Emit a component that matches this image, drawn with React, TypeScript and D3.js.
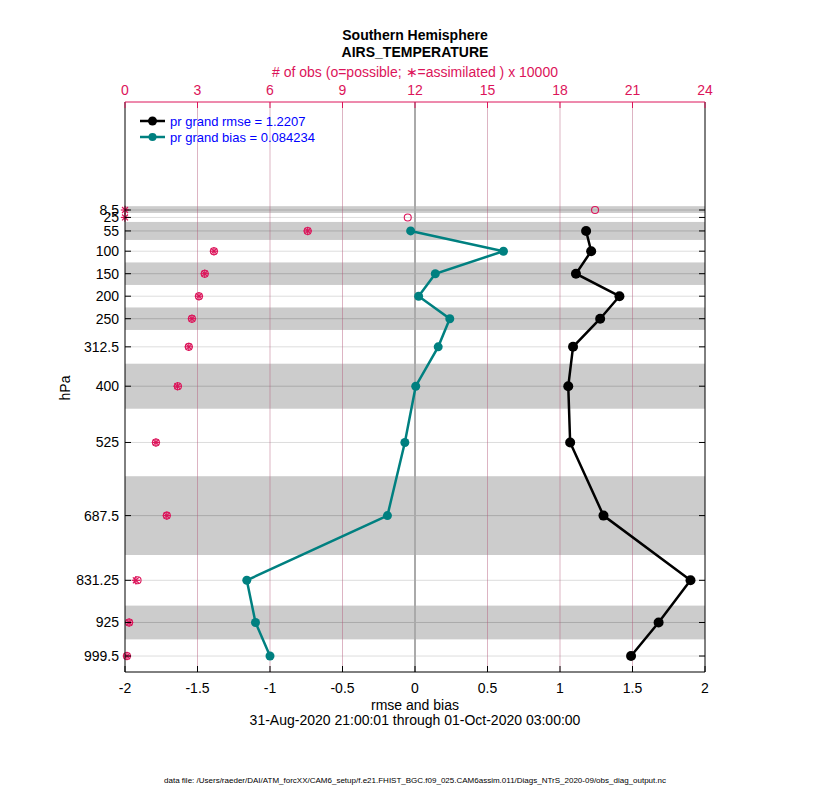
import React from "react";
import * as d3 from "d3";

const levels = [55, 100, 150, 200, 250, 312.5, 400, 525, 687.5, 831.25, 925, 999.5];
const rmse = [1.18, 1.215, 1.11, 1.41, 1.277, 1.09, 1.057, 1.07, 1.3, 1.9, 1.68, 1.49];
const bias = [-0.03, 0.61, 0.14, 0.025, 0.24, 0.16, 0.005, -0.07, -0.19, -1.16, -1.1, -1.0];

const obsLevels = [8.5, 25, 55, 100, 150, 200, 250, 312.5, 400, 525, 687.5, 831.25, 925, 999.5];
const obsPossible = [19.45, 11.7, 7.56, 3.68, 3.3, 3.06, 2.77, 2.64, 2.19, 1.28, 1.73, 0.52, 0.17, 0.08];
const obsAssimilated = [0, 0, 7.56, 3.68, 3.3, 3.06, 2.77, 2.64, 2.17, 1.28, 1.73, 0.45, 0.17, 0.08];

const yTickLabels = ["8.5", "25", "55", "100", "150", "200", "250", "312.5", "400", "525", "687.5", "831.25", "925", "999.5"];
const xTicks = [-2, -1.5, -1, -0.5, 0, 0.5, 1, 1.5, 2];
const topTicks = [0, 3, 6, 9, 12, 15, 18, 21, 24];
const bands: [number, number][] = [[0, 15], [35, 75], [125, 175], [225, 275], [350, 450], [600, 775], [887.5, 962.5]];

const L = 125, R = 705, T = 102, B = 672;
const FONT = "'Liberation Sans', Arial, Helvetica, sans-serif";
const CRIMSON = "#dc145a";

export default function App() {
  const x = d3.scaleLinear().domain([-2, 2]).range([L, R]);
  const xTop = d3.scaleLinear().domain([0, 24]).range([L, R]);
  const y = d3.scaleLinear().domain([-231.5, 1035]).range([T, B]);

  const line = d3.line<[number, number]>().x((d) => x(d[0])).y((d) => y(d[1]));
  const rmsePts = levels.map((l, i) => [rmse[i], l] as [number, number]);
  const biasPts = levels.map((l, i) => [bias[i], l] as [number, number]);

  const asterisk = (cx: number, cy: number, r: number, key: string) => {
    const a = r * 0.707;
    return (
      <g key={key} stroke={CRIMSON} strokeWidth={1.2}>
        <line x1={cx - r} y1={cy} x2={cx + r} y2={cy} />
        <line x1={cx} y1={cy - r} x2={cx} y2={cy + r} />
        <line x1={cx - a} y1={cy - a} x2={cx + a} y2={cy + a} />
        <line x1={cx - a} y1={cy + a} x2={cx + a} y2={cy - a} />
      </g>
    );
  };

  return (
    <svg width={830} height={800} style={{ position: "absolute", left: 0, top: 0, background: "#fff" }} fontFamily={FONT}>
      <rect x={0} y={0} width={830} height={800} fill="#fff" />
      {bands.map((b, i) => (
        <rect key={"b" + i} x={L} y={y(b[0])} width={R - L} height={y(b[1]) - y(b[0])} fill="#cccccc" />
      ))}
      {obsLevels.map((l, i) => {
        const inBand = bands.some((b) => l >= b[0] && l <= b[1]);
        return <line key={"h" + i} x1={L} x2={R} y1={y(l)} y2={y(l)} stroke={inBand ? "#aaaaaa" : "#dddddd"} strokeWidth={1} />;
      })}
      {topTicks.slice(1, -1).map((t) => (
        <line key={"v" + t} x1={xTop(t)} x2={xTop(t)} y1={T} y2={B} stroke="#b4597a" strokeOpacity={0.45} strokeWidth={1} />
      ))}
      <line x1={x(0)} x2={x(0)} y1={T} y2={B} stroke="#aaaaaa" strokeWidth={2} />

      {obsLevels.map((l, i) => (
        <circle key={"o" + i} cx={xTop(obsPossible[i])} cy={y(l)} r={3.5} fill="none" stroke={CRIMSON} strokeWidth={1.1} />
      ))}
      {obsLevels.map((l, i) => asterisk(xTop(obsAssimilated[i]), y(l), 4.2, "a" + i))}

      <path d={line(biasPts) || ""} fill="none" stroke="#008080" strokeWidth={2.5} />
      {biasPts.map((p, i) => (
        <circle key={"bp" + i} cx={x(p[0])} cy={y(p[1])} r={4.5} fill="#008080" />
      ))}
      <path d={line(rmsePts) || ""} fill="none" stroke="#000" strokeWidth={2.5} />
      {rmsePts.map((p, i) => (
        <circle key={"rp" + i} cx={x(p[0])} cy={y(p[1])} r={5} fill="#000" />
      ))}

      <line x1={L} x2={R} y1={B} y2={B} stroke="#000" strokeWidth={1} />
      <line x1={L} x2={L} y1={T} y2={B} stroke="#000" strokeWidth={1} />
      <line x1={R} x2={R} y1={T} y2={B} stroke="#000" strokeWidth={1} />
      <line x1={L} x2={R} y1={T} y2={T} stroke={CRIMSON} strokeWidth={1} />
      {obsLevels.map((l, i) => (
        <g key={"yt" + i}>
          <line x1={L} x2={L + 6} y1={y(l)} y2={y(l)} stroke="#000" />
          <line x1={R - 6} x2={R} y1={y(l)} y2={y(l)} stroke="#000" />
          <text x={L - 6} y={y(l) + 5} textAnchor="end" fontSize={14} fill="#000">{yTickLabels[i]}</text>
        </g>
      ))}
      {xTicks.map((t) => (
        <g key={"xt" + t}>
          <line x1={x(t)} x2={x(t)} y1={B} y2={B - 6} stroke="#000" />
          <text x={x(t)} y={B + 21} textAnchor="middle" fontSize={14} fill="#000">{t}</text>
        </g>
      ))}
      {topTicks.map((t) => (
        <g key={"tt" + t}>
          <line x1={xTop(t)} x2={xTop(t)} y1={T} y2={T + 6} stroke={CRIMSON} />
          <text x={xTop(t)} y={T - 7} textAnchor="middle" fontSize={14} fill={CRIMSON}>{t}</text>
        </g>
      ))}

      <line x1={140} x2={165} y1={121} y2={121} stroke="#000" strokeWidth={2.5} />
      <circle cx={152.5} cy={121} r={4.5} fill="#000" />
      <text x={170} y={126} fontSize={13} fill="#0000ff">pr grand rmse = 1.2207</text>
      <line x1={140} x2={165} y1={137} y2={137} stroke="#008080" strokeWidth={2.5} />
      <circle cx={152.5} cy={137} r={4} fill="#008080" />
      <text x={170} y={142} fontSize={13} fill="#0000ff">pr grand bias = 0.084234</text>

      <text x={415} y={40} textAnchor="middle" fontSize={14} fontWeight="bold" fill="#000">Southern Hemisphere</text>
      <text x={415} y={57} textAnchor="middle" fontSize={14} fontWeight="bold" fill="#000">AIRS_TEMPERATURE</text>
      <text x={415} y={77} textAnchor="middle" fontSize={14} fill={CRIMSON}># of obs (o=possible; ∗=assimilated ) x 10000</text>
      <text x={415} y={710} textAnchor="middle" fontSize={14} fill="#000">rmse and bias</text>
      <text x={415} y={725} textAnchor="middle" fontSize={14} fill="#000">31-Aug-2020 21:00:01 through 01-Oct-2020 03:00:00</text>
      <text x={70} y={388} textAnchor="middle" fontSize={14} fill="#000" transform="rotate(-90 70 388)">hPa</text>
      <text x={415} y={783} textAnchor="middle" fontSize={8} fill="#000">data file: /Users/raeder/DAI/ATM_forcXX/CAM6_setup/f.e21.FHIST_BGC.f09_025.CAM6assim.011/Diags_NTrS_2020-09/obs_diag_output.nc</text>
    </svg>
  );
}
